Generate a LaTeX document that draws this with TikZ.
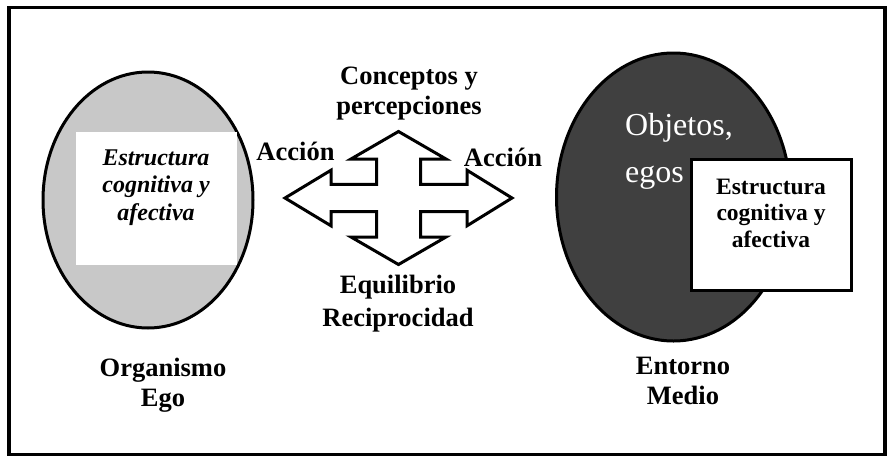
\documentclass[tikz,border=0pt]{standalone}
\usepackage{fontspec}
\setmainfont{Liberation Serif}
\definecolor{egogray}{RGB}{200,200,200}
\definecolor{mediogray}{RGB}{64,64,64}
\begin{document}
\begin{tikzpicture}[x=1pt,y=-1pt,
    boldtext/.style={font=\fontsize{26.5}{30}\selectfont\bfseries, align=center, inner sep=0pt, anchor=base},
    smalltext/.style={font=\fontsize{23.5}{26.5}\selectfont\bfseries, align=center, inner sep=0pt, anchor=base},
    outline/.style={draw=black, line width=3pt}]
  \useasboundingbox (0,0) rectangle (887,456);
  \draw[line width=3.5pt] (9,7.5) rectangle (885,454.5);

  % organismo
  \draw[outline, fill=egogray] (148,200) ellipse [x radius=105, y radius=128];
  \node[fill=white, inner sep=0pt, minimum width=161pt, minimum height=133pt] (egobox) at (156.5,198.5) {};
  \node[smalltext, font=\fontsize{24}{27.5}\selectfont\bfseries\itshape] (egotext) at (156,220) {Estructura\\cognitiva y\\afectiva};

  % medio
  \draw[outline, fill=mediogray] (673.5,197) ellipse [x radius=117, y radius=144];
  \node[font=\fontsize{32}{47}\selectfont, text=white, align=left, inner sep=0pt, anchor=base west] (objetos) at (625,182) {Objetos,\\egos};
  \node[draw=black, line width=3.3pt, fill=white, inner sep=0pt, minimum width=160pt, minimum height=131pt] (mediobox) at (771.5,225) {};
  \node[smalltext] (mediotext) at (771,247) {Estructura\\cognitiva y\\afectiva};

  % cruz
  \draw[outline, fill=white, line join=miter, shift={(398.5,198)}]
    (0,-66.5) -- (47.5,-39) -- (22,-39) -- (22,-13.7) -- (68.5,-13.7) -- (68.5,-27.8)
    -- (113.5,0) -- (68.5,27.8) -- (68.5,13.7) -- (22,13.7) -- (22,39) -- (47.5,39)
    -- (0,66.5) -- (-47.5,39) -- (-22,39) -- (-22,13.7) -- (-67.5,13.7) -- (-67.5,27.8)
    -- (-113.5,0) -- (-67.5,-27.8) -- (-67.5,-13.7) -- (-22,-13.7) -- (-22,-39) -- (-47.5,-39)
    -- cycle;

  \node[boldtext] (conceptos) at (409,114) {Conceptos y\\percepciones};
  \node[boldtext] (accionizq) at (295.5,160.7) {Acción};
  \node[boldtext] (accionder) at (503,166.7) {Acción};
  \node[boldtext, font=\fontsize{26.5}{33}\selectfont\bfseries] (equilibrio) at (398,326) {Equilibrio\\Reciprocidad};
  \node[boldtext] (organismo) at (163,406.7) {Organismo\\Ego};
  \node[boldtext] (entorno) at (683,404) {Entorno\\Medio};
\end{tikzpicture}
\end{document}
